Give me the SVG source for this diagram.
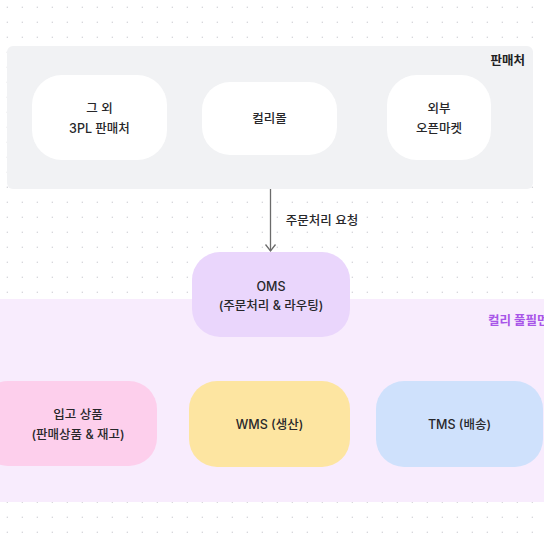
<svg xmlns="http://www.w3.org/2000/svg" width="544" height="544" viewBox="0 0 544 544">
<defs>
<pattern id="dots" x="0" y="0" width="15" height="15" patternUnits="userSpaceOnUse">
<circle cx="7.3" cy="7.3" r="0.7" fill="#cfcfd4"/>
</pattern>
<marker id="arr" viewBox="0 0 10 12" refX="8.5" refY="6" markerWidth="10" markerHeight="12" markerUnits="userSpaceOnUse" orient="auto">
<path d="M2,1 L8.5,6 L2,11" fill="none" stroke="#6b6b6b" stroke-width="1.3"/>
</marker>
<style>
.t{font-family:Inter,"Noto Sans CJK KR",sans-serif;font-size:12.5px;font-weight:500;fill:#27272a;text-anchor:middle;dominant-baseline:central}
.h{font-family:Inter,"Noto Sans CJK KR",sans-serif;font-size:12.5px;font-weight:700}
</style>
</defs>
<rect width="544" height="544" fill="#ffffff"/>
<rect width="544" height="544" fill="url(#dots)"/>
<g id="panel-sellers">
<rect x="7" y="46" width="526" height="143" rx="6" fill="#f1f2f4"/>
<text class="h" x="525" y="60" text-anchor="end" dominant-baseline="central" fill="#1f1f23">판매처</text>
</g>
<g id="panel-fulfillment">
<rect x="-10" y="299" width="564" height="203" fill="#f8ecfd"/>
<text class="h" x="488" y="320" dominant-baseline="central" fill="#a855e8">컬리 풀필먼트</text>
</g>
<g id="node-3pl">
<rect x="32" y="75" width="135" height="85" rx="30" fill="#ffffff"/>
<text class="t" x="99.5" y="108">그 외</text>
<text class="t" x="99.5" y="128">3PL 판매처</text>
</g>
<g id="node-kurlymall">
<rect x="202" y="82" width="135" height="73" rx="28" fill="#ffffff"/>
<text class="t" x="269.5" y="118">컬리몰</text>
</g>
<g id="node-openmarket">
<rect x="387" y="75" width="104" height="85" rx="30" fill="#ffffff"/>
<text class="t" x="439" y="108">외부</text>
<text class="t" x="439" y="128">오픈마켓</text>
</g>
<g id="connectors">
<line x1="270.5" y1="189" x2="270.5" y2="251" stroke="#6b6b6b" stroke-width="1.3" marker-end="url(#arr)"/>
<text class="t" x="322" y="220">주문처리 요청</text>
</g>
<g id="node-oms">
<rect x="192" y="252" width="158" height="85" rx="28" fill="#ead6fc"/>
<text class="t" x="271" y="286">OMS</text>
<text class="t" x="271" y="305">(주문처리 &amp; 라우팅)</text>
</g>
<g id="node-inbound">
<rect x="-20" y="381" width="177" height="85" rx="28" fill="#fdcfec"/>
<text class="t" x="78" y="414">입고 상품</text>
<text class="t" x="78" y="434">(판매상품 &amp; 재고)</text>
</g>
<g id="node-wms">
<rect x="189" y="381" width="161" height="86" rx="28" fill="#fde5a1"/>
<text class="t" x="269.5" y="424">WMS (생산)</text>
</g>
<g id="node-tms">
<rect x="376" y="381" width="167" height="86" rx="28" fill="#cfe1fc"/>
<text class="t" x="459.5" y="424">TMS (배송)</text>
</g>
</svg>
